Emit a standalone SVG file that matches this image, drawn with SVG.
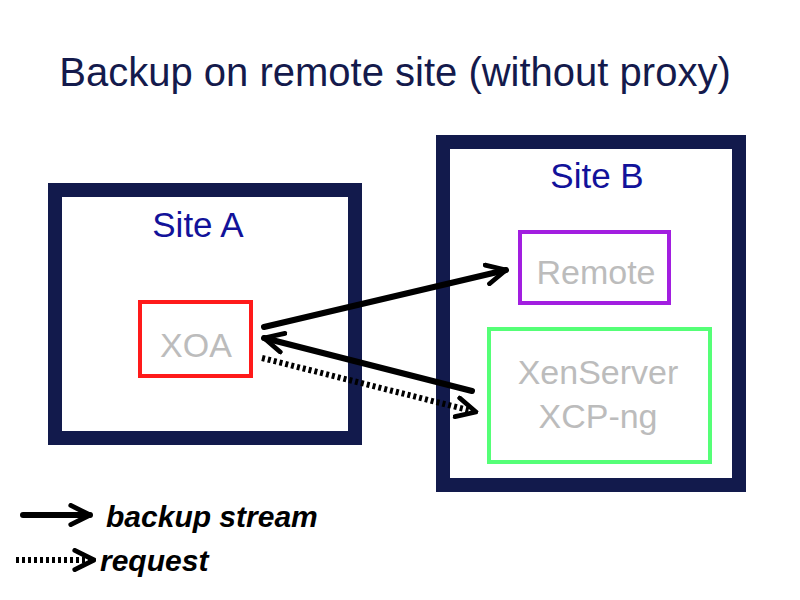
<svg xmlns="http://www.w3.org/2000/svg" width="800" height="600" viewBox="0 0 800 600">
  <style>
    .site { fill: none; stroke: #121a4c; stroke-width: 14; }
    .sitelabel { font-family: "Liberation Sans", "DejaVu Sans", sans-serif; font-size: 35px; fill: #12129a; text-anchor: middle; }
    .nodelabel { font-family: "Liberation Sans", "DejaVu Sans", sans-serif; font-size: 34px; fill: #bcbcbc; text-anchor: middle; }
    .conn { fill: none; stroke: #000; stroke-width: 6; stroke-linecap: round; }
    .dot { stroke-dasharray: 3 3; stroke-linecap: butt; }
    .legend { font-family: "Liberation Sans", "DejaVu Sans", sans-serif; font-size: 30px; fill: #000; font-weight: bold; font-style: italic; }
  </style>
  <defs>
    <marker id="head" viewBox="0 0 10 10" refX="9" refY="5" markerWidth="4" markerHeight="4" markerUnits="strokeWidth" orient="auto-start-reverse">
      <path d="M1,1 L9,5 L1,9" fill="none" stroke="#000" stroke-width="2" stroke-linecap="round" stroke-linejoin="round"/>
    </marker>
  </defs>
  <rect width="800" height="600" fill="#ffffff"/>
  <text x="395" y="86" font-family="Liberation Sans, DejaVu Sans, sans-serif" font-size="40" fill="#141a4c" text-anchor="middle">Backup on remote site (without proxy)</text>

  <g id="siteA">
    <rect class="site" x="55" y="190" width="300" height="248"/>
    <text class="sitelabel" x="198" y="237">Site A</text>
  </g>
  <g id="siteB">
    <rect class="site" x="443" y="142" width="296" height="343"/>
    <text class="sitelabel" x="597" y="188">Site B</text>
  </g>
  <g id="xoa">
    <rect x="140" y="302" width="111" height="74" fill="none" stroke="#ff1a1a" stroke-width="4"/>
    <text class="nodelabel" x="196" y="357">XOA</text>
  </g>
  <g id="remote">
    <rect x="520" y="232" width="149" height="71" fill="none" stroke="#a21ee0" stroke-width="4"/>
    <text class="nodelabel" x="596" y="284">Remote</text>
  </g>
  <g id="xenserver">
    <rect x="489" y="329" width="221" height="133" fill="none" stroke="#55ff77" stroke-width="4"/>
    <text class="nodelabel" x="598" y="384">XenServer</text>
    <text class="nodelabel" x="598" y="428">XCP-ng</text>
  </g>

  <g id="connectors">
    <line class="conn" x1="264" y1="327" x2="506" y2="270" marker-end="url(#head)"/>
    <line class="conn" x1="472" y1="391" x2="264" y2="338" marker-end="url(#head)"/>
    <line class="conn dot" x1="262" y1="358" x2="476" y2="412" marker-end="url(#head)"/>
  </g>

  <g id="legend">
    <line class="conn" x1="23" y1="515" x2="90" y2="515" marker-end="url(#head)"/>
    <text class="legend" x="106" y="527">backup stream</text>
    <line class="conn dot" x1="16" y1="560" x2="94" y2="560" marker-end="url(#head)"/>
    <text class="legend" x="100" y="571">request</text>
  </g>
</svg>
